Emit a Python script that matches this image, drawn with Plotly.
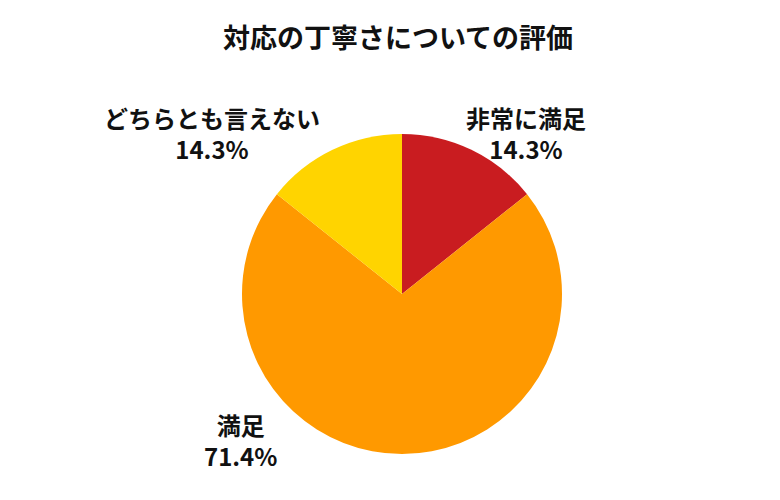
import plotly.graph_objects as go

title = "対応の丁寧さについての評価"
labels = ["非常に満足", "満足", "どちらとも言えない"]
values = [1, 5, 1]
colors = ["#C91C20", "#FF9900", "#FFD400"]

# label anchor positions (paper coords), one per slice
label_x = [0.664, 0.286, 0.249]
label_y = [1.003, 0.044, 1.003]

font = "Noto Sans CJK JP"
total = sum(values)

fig = go.Figure(go.Pie(
    labels=labels,
    values=values,
    marker=dict(colors=colors, line=dict(width=0)),
    sort=False,
    direction="clockwise",
    rotation=0,
    textinfo="none",
    hoverinfo="label+percent",
    showlegend=False,
))

for lab, v, x, y in zip(labels, values, label_x, label_y):
    fig.add_annotation(
        x=x, y=y, xref="paper", yref="paper",
        text=f"<b>{lab}<br>{v / total * 100:.1f}%</b>",
        showarrow=False,
        font=dict(family=font, size=24, color="#111111"),
        align="center", xanchor="center", yanchor="middle",
    )

fig.update_layout(
    width=780, height=500,
    title=dict(text=f"<b>{title}</b>", x=0.5, xanchor="center", y=0.938, yanchor="middle",
               font=dict(family=font, size=27, color="#111111")),
    margin=dict(l=16, r=8, t=126, b=54),
    paper_bgcolor="white",
    plot_bgcolor="white",
)

fig.write_html("out.html")
